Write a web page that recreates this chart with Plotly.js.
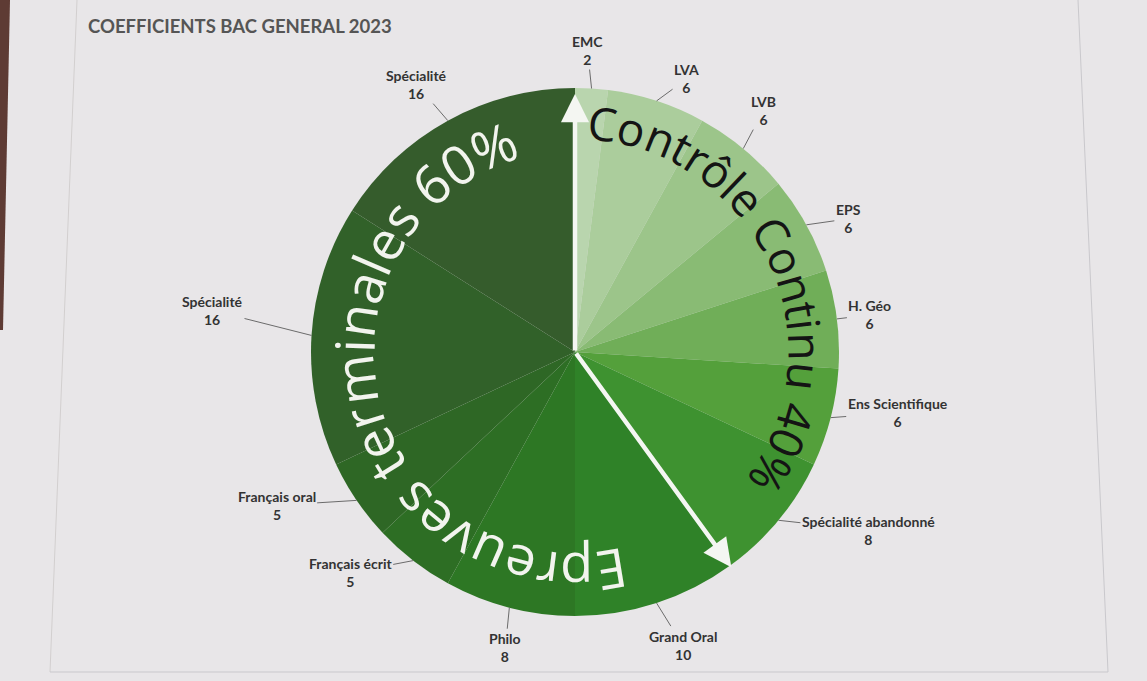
<!DOCTYPE html>
<html>
<head>
<meta charset="utf-8">
<script src="https://cdn.plot.ly/plotly-3.0.1.min.js"></script>
<style>
html,body{margin:0;padding:0;background:#e8e6e8;}
#chart{width:1147px;height:681px;}
</style>
</head>
<body>
<div id="chart"></div>
<script>
// ---- data ----
const labels = ["EMC","LVA","LVB","EPS","H. Géo","Ens Scientifique","Spécialité abandonné",
                "Grand Oral","Philo","Français écrit","Français oral","Spécialité","Spécialité"];
const values = [2,6,6,6,6,6,8,10,8,5,5,16,16];
const groupTexts = ["Contrôle Continu 40%","Epreuves terminales 60%"];
const groupShares = [40,60];
const chartTitle = "COEFFICIENTS BAC GENERAL 2023";

// ---- styles / layout ----
const colors = ["#b9d5ae","#abcd9c","#9cc58a","#89bb74","#70ae58","#54a03b","#3e9230",
                "#2f8228","#2d7724","#2d6e24","#2e6725","#316129","#355c2c"];
const labelOffsets = [[-4,-38],[30,-22],[20,-38],[42,-6],[33,-4],[67,-5],[90,10],
                      [26,42],[-4,40],[-63,12],[-80,5],[-99,-25],[-31,-36]];
const W=1147, H=681, CX=575, CY=352, R=264;

const total = values.reduce((a,b)=>a+b,0);
const px2x = p => p/W, py2y = p => 1 - p/H;
function polar(deg, r){ const a = deg*Math.PI/180; return [CX + r*Math.sin(a), CY - r*Math.cos(a)]; }

const annotations = [];
// title
annotations.push({text:chartTitle, xref:'paper', yref:'paper', x:px2x(86), y:py2y(13),
  xanchor:'left', yanchor:'top', showarrow:false,
  font:{family:'Lato, Open Sans, sans-serif', size:18.5, color:'#555555', weight:'bold'}});

// slice labels with leader lines
let cum = 0;
values.forEach((v,i)=>{
  const mid = 360*(cum + v/2)/total; cum += v;
  const [tx,ty] = polar(mid, R);
  annotations.push({text: labels[i] + '<br>' + v, xref:'paper', yref:'paper',
    x:px2x(tx), y:py2y(ty), ax:labelOffsets[i][0], ay:labelOffsets[i][1],
    showarrow:true, arrowhead:0, arrowwidth:1, arrowcolor:'#6b6b6b', standoff:0,
    align:'center',
    font:{family:'Lato, Open Sans, sans-serif', size:14, color:'#333333', weight:'bold'}});
});

// arrows along group boundaries
const boundaries = [0, 360*groupShares[0]/100];
const arrowLen = [258, 266];
boundaries.forEach((deg,k)=>{
  const [tx,ty] = polar(deg, arrowLen[k]);
  annotations.push({text:'', xref:'paper', yref:'paper', x:px2x(tx), y:py2y(ty),
    ax: CX - tx, ay: CY - ty, showarrow:true, arrowhead:2, arrowsize:1.25,
    arrowwidth:4.5, arrowcolor:'#f4f6f2', standoff:0});
});

// curved text
const cv = document.createElement('canvas').getContext('2d');
function normAng(a){ a = ((a % 360)+360)%360; if(a>180) a-=360; return a; }
function arcText(str, size, family, startDeg, endDeg, rc, color){
  cv.font = size + 'px ' + family;
  const chars = Array.from(str);
  const w = chars.map(c=>cv.measureText(c).width);
  const centers = []; let s = 0;
  w.forEach(x=>{ centers.push(s + x/2); s += x; });
  const c0 = centers[0], span = centers[centers.length-1] - c0;
  chars.forEach((ch,i)=>{
    if(ch === ' ') return;
    const th = startDeg + (centers[i]-c0)/span*(endDeg-startDeg);
    const [x,y] = polar(th, rc);
    annotations.push({text:ch, xref:'paper', yref:'paper', x:px2x(x), y:py2y(y),
      xanchor:'center', yanchor:'middle', showarrow:false, textangle:normAng(th),
      font:{family:family, size:size, color:color}});
  });
}
arcText(groupTexts[0], 46, 'Open Sans', 6.9, 121.8, 231, '#141414');
arcText(groupTexts[1], 54, 'Open Sans', 170.6, 338.6, 222, '#f2f4ee');

const shapes = [
  {type:'line', xref:'paper', yref:'paper', x0:px2x(77), y0:py2y(0), x1:px2x(50), y1:py2y(672), line:{color:'#d2cfcf', width:1}},
  {type:'line', xref:'paper', yref:'paper', x0:px2x(1078), y0:py2y(0), x1:px2x(1108), y1:py2y(672), line:{color:'#c9c8cc', width:1}},
  {type:'line', xref:'paper', yref:'paper', x0:px2x(50), y0:py2y(672), x1:px2x(1108), y1:py2y(672), line:{color:'#c9c8cc', width:1}},
  {type:'path', xref:'paper', yref:'paper',
   path:'M 0 1 L '+px2x(10)+' 1 L '+px2x(3)+' '+py2y(330)+' L 0 '+py2y(330)+' Z',
   fillcolor:'#5e3b34', line:{width:0}}
];

const trace = {type:'pie', labels:labels.map((l,i)=>l+' '+i), values:values, sort:false,
  direction:'clockwise', rotation:0, textinfo:'none', hoverinfo:'label+value',
  marker:{colors:colors, line:{width:0}},
  domain:{x:[(CX-R)/W,(CX+R)/W], y:[1-(CY+R)/H, 1-(CY-R)/H]}, showlegend:false};

const layout = {width:W, height:H, margin:{l:0,r:0,t:0,b:0},
  paper_bgcolor:'#e8e6e8', plot_bgcolor:'#e8e6e8', showlegend:false,
  annotations:annotations, shapes:shapes};

Plotly.newPlot('chart', [trace], layout, {displayModeBar:false, staticPlot:true});
</script>
</body>
</html>
